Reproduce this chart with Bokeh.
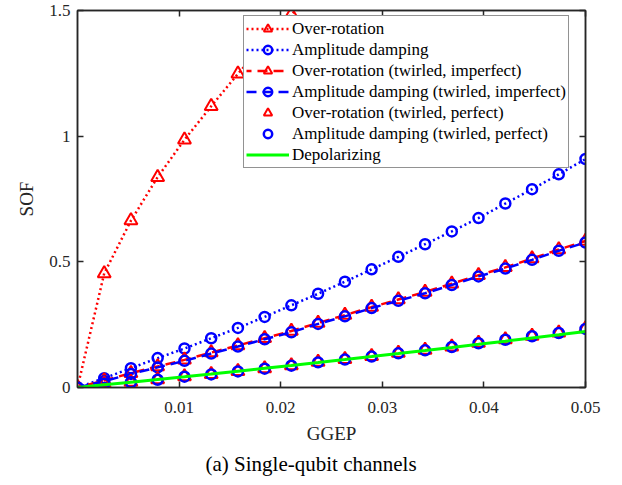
from bokeh.plotting import figure
from bokeh.models import FixedTicker, LinearAxis, Legend, LegendItem, Range1d, Title
from bokeh.embed import file_html
from bokeh.resources import INLINE

# ---------------- data ----------------
ggep = [0.0, 0.00263, 0.00526, 0.00789, 0.01053, 0.01316, 0.01579, 0.01842,
        0.02105, 0.02368, 0.02632, 0.02895, 0.03158, 0.03421, 0.03684,
        0.03947, 0.04211, 0.04474, 0.04737, 0.05]

over_rotation = [0.0, 0.454, 0.664, 0.837, 0.986, 1.119, 1.248, 1.370, 1.484, 1.590]

amplitude_damping = [0.0, 0.037, 0.077, 0.117, 0.155, 0.196, 0.237, 0.281, 0.327,
                     0.373, 0.421, 0.470, 0.520, 0.570, 0.621, 0.674, 0.732,
                     0.789, 0.848, 0.909]

over_rotation_twirled_imperfect = [0.0, 0.028, 0.057, 0.084, 0.110, 0.139, 0.167,
                                   0.196, 0.225, 0.257, 0.288, 0.320, 0.350,
                                   0.380, 0.413, 0.447, 0.478, 0.513, 0.549, 0.583]

amplitude_damping_twirled_imperfect = [0.0, 0.025, 0.054, 0.080, 0.106, 0.135,
                                       0.163, 0.192, 0.220, 0.253, 0.283, 0.316,
                                       0.345, 0.375, 0.408, 0.442, 0.473, 0.508,
                                       0.544, 0.577]

over_rotation_twirled_perfect = [0.0, 0.015, 0.022, 0.032, 0.044, 0.053, 0.065,
                                 0.076, 0.088, 0.101, 0.112, 0.124, 0.137, 0.149,
                                 0.162, 0.177, 0.191, 0.205, 0.218, 0.235]

amplitude_damping_twirled_perfect = [0.0, 0.015, 0.021, 0.031, 0.043, 0.052, 0.064,
                                     0.075, 0.087, 0.100, 0.111, 0.123, 0.136,
                                     0.148, 0.161, 0.176, 0.190, 0.204, 0.217, 0.233]

depolarizing = [0.0, 0.0105, 0.0211, 0.0319, 0.0428, 0.0538, 0.0650, 0.0763,
                0.0877, 0.0993, 0.1110, 0.1229, 0.1349, 0.1470, 0.1593, 0.1717,
                0.1843, 0.1970, 0.2098, 0.2228]

x_ticks = [0.01, 0.02, 0.03, 0.04, 0.05]
x_tick_labels = ["0.01", "0.02", "0.03", "0.04", "0.05"]
y_ticks = [0, 0.5, 1, 1.5]
y_tick_labels = ["0", "0.5", "1", "1.5"]

labels = ["Over-rotation", "Amplitude damping",
          "Over-rotation (twirled, imperfect)", "Amplitude damping (twirled, imperfect)",
          "Over-rotation (twirled, perfect)", "Amplitude damping (twirled, perfect)",
          "Depolarizing"]

# ---------------- styling ----------------
FONT = "Liberation Serif"
AX = "#262626"
RED = "#ff0000"
BLUE = "#0000ff"
GREEN = "#00ff00"

p = figure(width=622, height=485,
           x_range=Range1d(0, 0.05), y_range=Range1d(0, 1.5),
           output_backend="svg", toolbar_location=None,
           min_border_left=77, min_border_right=37,
           min_border_top=10, min_border_bottom=98)
p.xgrid.visible = False
p.ygrid.visible = False
p.outline_line_color = AX
p.outline_line_width = 1.5
p.background_fill_color = "white"
p.border_fill_color = "white"

xt = FixedTicker(ticks=x_ticks)
yt = FixedTicker(ticks=y_ticks)


def style_axis(ax):
    ax.axis_line_color = AX
    ax.axis_line_width = 1.5
    ax.major_tick_line_color = AX
    ax.major_tick_line_width = 1.5
    ax.major_tick_in = 6
    ax.major_tick_out = 0
    ax.minor_tick_in = 0
    ax.minor_tick_out = 0
    ax.minor_tick_line_color = None
    ax.major_label_text_font = FONT
    ax.major_label_text_font_size = "17px"
    ax.major_label_text_color = AX
    ax.axis_label_text_font = FONT
    ax.axis_label_text_font_size = "19px"
    ax.axis_label_text_font_style = "normal"
    ax.axis_label_text_color = AX


xa = p.xaxis[0]
xa.ticker = xt
style_axis(xa)
xa.major_label_overrides = dict(zip(x_ticks, x_tick_labels))
xa.major_label_standoff = 14
xa.axis_label = "GGEP"
xa.axis_label_standoff = 7

ya = p.yaxis[0]
ya.ticker = yt
style_axis(ya)
ya.major_label_overrides = dict(zip(y_ticks, y_tick_labels))
ya.major_label_standoff = 7
ya.axis_label = "SOF"
ya.axis_label_standoff = 9

top = LinearAxis(ticker=xt)
style_axis(top)
top.major_label_text_font_size = "0px"
top.major_label_standoff = 0
top.major_label_overrides = {t: "" for t in x_ticks}
p.add_layout(top, "above")

right = LinearAxis(ticker=yt)
style_axis(right)
right.major_label_text_font_size = "0px"
right.major_label_standoff = 0
right.major_label_overrides = {t: "" for t in y_ticks}
p.add_layout(right, "right")

n_or = len(over_rotation)

# Over-rotation (untwirled)
l1 = p.line(ggep[:n_or], over_rotation, line_color=RED, line_width=2.5, line_dash="2 3")
m1 = p.scatter(ggep[:n_or], over_rotation, marker="triangle", size=13,
               line_color=RED, fill_color=None, line_width=2)
# Amplitude damping (untwirled)
l2 = p.line(ggep, amplitude_damping, line_color=BLUE, line_width=2.5, line_dash="2 3")
m2 = p.scatter(ggep, amplitude_damping, marker="circle", size=10,
               line_color=BLUE, fill_color=None, line_width=2.5)
# Over-rotation twirled imperfect
l3 = p.line(ggep, over_rotation_twirled_imperfect, line_color=RED, line_width=2.5,
            line_dash="10 6", line_dash_offset=5)
m3 = p.scatter(ggep, over_rotation_twirled_imperfect, marker="triangle", size=13,
               line_color=RED, fill_color=None, line_width=2)
# Amplitude damping twirled imperfect
l4 = p.line(ggep, amplitude_damping_twirled_imperfect, line_color=BLUE, line_width=2.5,
            line_dash="10 6")
m4 = p.scatter(ggep, amplitude_damping_twirled_imperfect, marker="circle", size=10,
               line_color=BLUE, fill_color=None, line_width=2.5)
# Perfect twirling (markers only)
m5 = p.scatter(ggep, over_rotation_twirled_perfect, marker="triangle", size=13,
               line_color=RED, fill_color=None, line_width=2)
m6 = p.scatter(ggep, amplitude_damping_twirled_perfect, marker="circle", size=10,
               line_color=BLUE, fill_color=None, line_width=2.5)
# Depolarizing
l7 = p.line(ggep, depolarizing, line_color=GREEN, line_width=3)

items = [
    LegendItem(label=labels[0], renderers=[l1, m1]),
    LegendItem(label=labels[1], renderers=[l2, m2]),
    LegendItem(label=labels[2], renderers=[l3, m3]),
    LegendItem(label=labels[3], renderers=[l4, m4]),
    LegendItem(label=labels[4], renderers=[m5]),
    LegendItem(label=labels[5], renderers=[m6]),
    LegendItem(label=labels[6], renderers=[l7]),
]
legend = Legend(items=items, location=(166, 219),
                label_text_font=FONT, label_text_font_size="17px",
                label_text_color="black",
                glyph_width=43, glyph_height=21, label_height=21,
                label_standoff=3, spacing=0, padding=2, margin=0,
                border_line_color=AX, border_line_width=1.5,
                background_fill_color="white", background_fill_alpha=1.0)
p.add_layout(legend, "center")

caption = Title(text="(a) Single-qubit channels", align="left", offset=128,
                text_font=FONT, text_font_size="21px", text_font_style="normal",
                text_color="black", standoff=7)
p.add_layout(caption, "below")

open("out.html", "w").write(file_html(p, INLINE))
